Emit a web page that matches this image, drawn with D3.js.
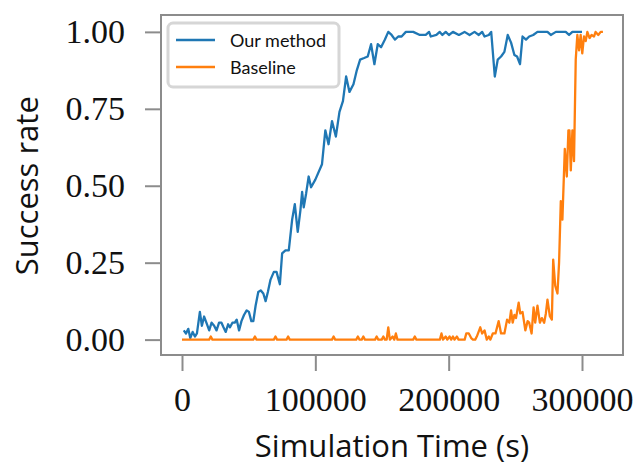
<!DOCTYPE html>
<html>
<head>
<meta charset="utf-8">
<script src="https://cdn.jsdelivr.net/npm/d3@7"></script>
<style>
  body { margin: 0; background: #fff; }
  .tick text { font-family: "Liberation Serif", serif; fill: #111; }
</style>
</head>
<body>
<div id="chart"></div>
<script>
// success rate over simulation time
const blueTime = [1300,3000,4700,6200,8000,9700,11200,13400,14900,16600,
  18700,20400,22200,24100,25900,27800,29600,31100,32800,34600,
  36000,37800,39600,41000,42800,44600,46500,48500,50200,52000,
  53500,55200,57200,59000,61000,62700,64400,66400,68900,70900,
  73400,75100,77600,80100,82600,84600,86800,88800,90100,91300,
  93100,95000,96800,100000,105000,107500,109900,112500,115400,118100,
  120700,123100,125600,128600,131100,133600,136600,139300,141800,144300,
  146800,149300,152200,154700,157200,159700,162200,164700,167900,173400,
  178400,182800,185300,186600,190800,193300,195300,197800,200200,203200,
  207700,211900,215700,219400,222600,225100,226900,230100,231900,234600,
  236800,239300,241800,244300,246800,249300,251300,253500,255400,258000,
  260400,263400,266600,274100,276600,280400,287800,290300,292800,300000];
const blueRate = [0.03,0.02,0.035,0.005,0.025,0.01,0.02,0.09,0.045,0.075,
  0.05,0.03,0.055,0.045,0.03,0.055,0.055,0.04,0.025,0.05,
  0.04,0.055,0.055,0.065,0.03,0.06,0.08,0.095,0.09,0.06,
  0.06,0.11,0.155,0.16,0.15,0.125,0.155,0.195,0.22,0.22,
  0.18,0.28,0.29,0.29,0.39,0.44,0.35,0.42,0.48,0.43,
  0.475,0.53,0.495,0.52,0.57,0.68,0.635,0.71,0.66,0.74,
  0.775,0.855,0.805,0.83,0.875,0.91,0.915,0.92,0.96,0.895,
  0.96,0.95,0.975,1.0,0.99,0.975,0.985,0.985,1.0,1.0,
  0.99,0.99,1.0,0.985,0.99,1.0,0.99,1.0,0.99,1.0,
  0.99,1.0,0.99,1.0,0.99,1.0,0.985,0.99,1.0,0.855,
  0.91,0.92,0.935,0.99,0.965,0.925,0.92,0.895,0.985,0.975,
  0.985,0.99,1.0,1.0,0.99,1.0,1.0,0.99,1.0,1.0];

const orangeTime = [0,20400,21600,22800,53500,54700,55900,68900,70100,71300,
  78400,79600,80800,112500,113700,114900,130700,131900,133100,134800,
  136000,137200,144800,146000,147200,149800,151000,152200,153500,154700,
  155900,158000,159200,160400,161600,173400,174600,175800,193400,194600,
  195800,197800,199000,200700,201900,203200,204400,206200,207400,212000,
  213200,215100,216900,218200,219900,221100,223700,225100,226900,228600,
  230100,231300,233100,235100,237500,239300,241800,243800,245500,246800,
  248000,249300,250500,252500,253700,255400,257500,259200,260400,262200,
  263700,264900,266600,268400,269900,271600,272900,274100,275900,277400,
  278400,279900,281600,282800,284100,285300,287100,288600,289800,290600,
  291600,292800,294000,295300,296500,297800,299000,300200,301500,302800,
  304000,305700,307200,309000,310200,312200,314000,315700];
const orangeRate = [0,0,0.01,0,0,0.01,0,0,0.01,0,
  0,0.01,0,0,0.01,0,0,0.01,0,0,
  0.01,0,0,0.01,0,0,0.01,0,0,0.04,
  0,0.01,0,0.02,0,0,0.01,0,0,0.02,
  0,0.01,0,0.01,0,0.01,0,0.01,0,0,
  0.02,0.02,0.005,0,0,0.01,0.04,0.02,0.03,0,
  0.01,0,0.02,0.02,0.06,0.02,0.02,0.065,0.055,0.095,
  0.055,0.08,0.07,0.12,0.085,0.09,0.03,0.06,0.055,0.02,
  0.105,0.055,0.11,0.055,0.07,0.055,0.085,0.13,0.076,0.065,
  0.26,0.175,0.15,0.25,0.45,0.39,0.62,0.53,0.68,0.68,
  0.55,0.68,0.58,0.91,0.99,0.94,0.99,0.93,0.985,0.97,
  1.0,0.98,0.99,0.985,1.0,0.99,1.0,1.0];

const yTicks = [0, 0.25, 0.5, 0.75, 1.0];
const xTicks = [0, 100000, 200000, 300000];

const series = [
  { name: "Our method", color: "#1f77b4", time: blueTime, rate: blueRate },
  { name: "Baseline", color: "#ff7f0e", time: orangeTime, rate: orangeRate }
];

const width = 639, height = 469;
const plotLeft = 161, plotRight = 623, plotTop = 16.5, plotBottom = 355;
const axisGray = "#8c8c8c";

const svg = d3.select("#chart").append("svg")
  .attr("width", width)
  .attr("height", height);

const x = d3.scaleLinear().domain([-15750, 330750]).range([plotLeft, plotRight]);
const y = d3.scaleLinear().domain([-0.05, 1.05]).range([plotBottom, plotTop]);

// lines
const line = d3.line()
  .x(d => x(d[0]))
  .y(d => y(d[1]));

series.forEach(s => {
  svg.append("path")
    .datum(s.time.map((t, i) => [t, s.rate[i]]))
    .attr("fill", "none")
    .attr("stroke", s.color)
    .attr("stroke-width", 2.3)
    .attr("stroke-linejoin", "round")
    .attr("d", line);
});

// frame
svg.append("rect")
  .attr("x", plotLeft).attr("y", plotTop - 1.5)
  .attr("width", plotRight - plotLeft).attr("height", plotBottom - plotTop + 1.5)
  .attr("fill", "none")
  .attr("stroke", axisGray)
  .attr("stroke-width", 2);

// axes
const yAxis = svg.append("g")
  .attr("transform", "translate(" + plotLeft + ",0)")
  .call(d3.axisLeft(y).tickValues(yTicks).tickFormat(d3.format(".2f")).tickSize(16).tickPadding(20));

const xAxis = svg.append("g")
  .attr("transform", "translate(0," + plotBottom + ")")
  .call(d3.axisBottom(x).tickValues(xTicks).tickFormat(d3.format("d")).tickSize(16).tickPadding(16));

[yAxis, xAxis].forEach(a => {
  a.select(".domain").remove();
  a.selectAll(".tick line").attr("stroke", axisGray).attr("stroke-width", 2);
  a.selectAll(".tick text").attr("font-size", "34px");
});

// axis labels
svg.append("text")
  .attr("x", (plotLeft + plotRight) / 2)
  .attr("y", 457)
  .attr("text-anchor", "middle")
  .attr("font-family", "'Open Sans', sans-serif")
  .attr("font-size", "31px")
  .attr("fill", "#111")
  .text("Simulation Time (s)");

svg.append("text")
  .attr("transform", "translate(38," + ((plotTop + plotBottom) / 2) + ") rotate(-90)")
  .attr("text-anchor", "middle")
  .attr("font-family", "'Open Sans', sans-serif")
  .attr("font-size", "31px")
  .attr("fill", "#111")
  .text("Success rate");

// legend
const legend = svg.append("g").attr("transform", "translate(168,23)");
legend.append("rect")
  .attr("width", 171).attr("height", 64).attr("rx", 5)
  .attr("fill", "#fff")
  .attr("stroke", "#d6d6d6")
  .attr("stroke-width", 3);

series.forEach((s, i) => {
  const ly = 17 + i * 27;
  legend.append("line")
    .attr("x1", 8).attr("x2", 47)
    .attr("y1", ly).attr("y2", ly)
    .attr("stroke", s.color)
    .attr("stroke-width", 2.3);
  legend.append("text")
    .attr("x", 62).attr("y", ly + 6.5)
    .attr("font-family", "Lato, sans-serif")
    .attr("font-size", "18px")
    .attr("fill", "#111")
    .text(s.name);
});
</script>
</body>
</html>
